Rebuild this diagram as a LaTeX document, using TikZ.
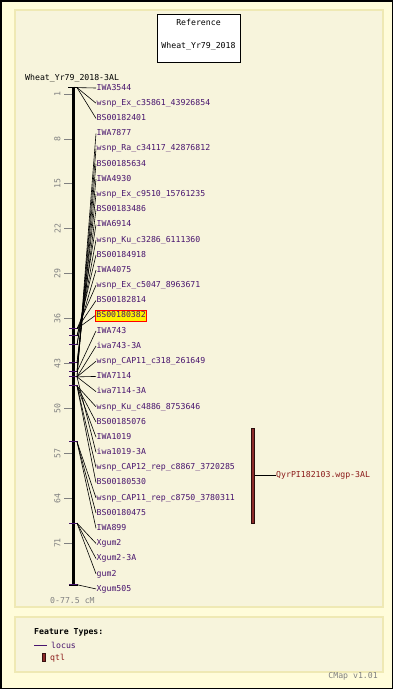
\documentclass[tikz,border=0pt]{standalone}
\usepackage{fontspec}
\setmonofont{DejaVu Sans Mono}
\definecolor{outerbg}{HTML}{FFFCDA}
\definecolor{panelbg}{HTML}{F7F4DC}
\definecolor{panelbd}{HTML}{EFE9B4}
\definecolor{locus}{HTML}{48146E}
\definecolor{qtlfill}{HTML}{8C2A2A}
\definecolor{qtltext}{HTML}{8B1A1A}
\definecolor{scalegray}{HTML}{808080}
\tikzset{
  panel/.style={fill=panelbg, draw=panelbd, line width=1.5pt},
  lbl/.style={anchor=west, inner sep=0.5pt, text=locus, text height=5.5pt, text depth=1pt},
  hl/.style={fill=yellow, draw=red, line width=0.8pt, inner xsep=1pt, inner ysep=2.5pt},
  conn/.style={black, line width=0.6pt},
  ftick/.style={locus, line width=1pt},
  stick/.style={scalegray, line width=0.8pt},
  slabel/.style={text=scalegray, rotate=90, inner sep=0pt},
}
\begin{document}
\begin{tikzpicture}[x=1pt, y=-1pt, font=\ttfamily\fontsize{8.2}{9}\selectfont]
\useasboundingbox (0,0) rectangle (393,689);
% background and panels
\fill[outerbg] (0,0) rectangle (393,689);
\draw[black, line width=1.5pt] (0.75,0.75) rectangle (392.25,688.25);
\path[panel] (15,10) rectangle (383,607);
\path[panel] (15,617) rectangle (383,672);
% reference box
\node[draw=black, fill=white, line width=0.8pt, minimum width=83pt, minimum height=48pt, inner sep=0pt] (refbox) at (198.5,38) {};
\node[inner sep=0pt] (reft) at (198.5,22) {Reference};
\node[inner sep=0pt] (refm) at (198.5,46) {Wheat\_Yr79\_2018};
% title
\node[anchor=west, inner sep=0pt] (title) at (25,78) {Wheat\_Yr79\_2018-3AL};
% scale
\foreach \v in {1,8,...,71} {
  \draw[stick] (64,{87.6+6.414*\v}) -- (72,{87.6+6.414*\v});
  \node[slabel] (s\v) at (57.5,{87.6+6.414*\v}) {\v};
}
% chromosome bar
\draw[black, line width=3pt] (73,86.5) -- (73,585.5);
% feature ticks
\foreach \c in {0,37.6,38.7,40.1,42.9,44.3,45.1,46.5,55.2,67.9,77.5} {
  \draw[ftick] (69,{87.6+6.414*\c}) -- (78,{87.6+6.414*\c});
}
\draw[black, line width=1pt] (68,87) -- (78,87);
\draw[black, line width=1pt] (69,585) -- (78,585);
% loci
\foreach \name/\cm [count=\i from 0] in {
  IWA3544/0,
  wsnp\_Ex\_c35861\_43926854/0,
  BS00182401/0,
  IWA7877/45.1,
  wsnp\_Ra\_c34117\_42876812/45.1,
  BS00185634/44.3,
  IWA4930/44.3,
  wsnp\_Ex\_c9510\_15761235/42.9,
  BS00183486/42.9,
  IWA6914/40.1,
  wsnp\_Ku\_c3286\_6111360/40.1,
  BS00184918/38.7,
  IWA4075/38.7,
  wsnp\_Ex\_c5047\_8963671/37.6,
  BS00182814/37.6,
  BS00180382/37.6,
  IWA743/44.3,
  iwa743-3A/45.1,
  wsnp\_CAP11\_c318\_261649/45.1,
  IWA7114/45.1,
  iwa7114-3A/45.1,
  wsnp\_Ku\_c4886\_8753646/46.5,
  BS00185076/46.5,
  IWA1019/46.5,
  iwa1019-3A/45.1,
  wsnp\_CAP12\_rep\_c8867\_3720285/46.5,
  BS00180530/46.5,
  wsnp\_CAP11\_rep\_c8750\_3780311/55.2,
  BS00180475/55.2,
  IWA899/55.2,
  Xgum2/67.9,
  Xgum2-3A/67.9,
  gum2/67.9,
  Xgum505/77.5} {
  \pgfmathsetmacro\ly{88+15.18*\i}
  \pgfmathsetmacro\fy{87.6+6.414*\cm}
  \coordinate (f\i) at (77,\fy);
  \ifnum\i=15
    \node[lbl,hl] (m\i) at (95,\ly) {\name};
  \else
    \node[lbl] (m\i) at (96,\ly) {\name};
  \fi
  \draw[conn] (f\i) -- (m\i.west);
}
% QTL
\node[draw=black!70!qtlfill, fill=qtlfill, line width=0.6pt, minimum width=3pt, minimum height=95pt, inner sep=0pt] (qbar) at (253,475.5) {};
\node[anchor=west, inner sep=0.5pt, text=qtltext, text height=5.5pt, text depth=1pt] (qlab) at (275.5,475.5) {QyrPI182103.wgp-3AL};
\draw[conn] (qbar.east) -- (qlab.west);
% range
\node[anchor=west, inner sep=0pt, text=scalegray] (range) at (50,601) {0-77.5 cM};
% legend
\node[anchor=west, inner sep=0pt, font=\ttfamily\bfseries\fontsize{8.2}{9}\selectfont] (ft) at (34,632) {Feature Types:};
\coordinate (la) at (34,645);
\coordinate (lb) at (47,645);
\draw[locus, line width=1pt] (la) -- (lb);
\node[anchor=west, inner sep=0pt, text=locus] (locusl) at (51,645) {locus};
\node[draw=black!60!qtlfill, fill=qtlfill, minimum width=3pt, minimum height=8pt, inner sep=0pt] (qsym) at (44,657.5) {};
\node[anchor=west, inner sep=0pt, text=qtltext] (qtll) at (50,658) {qtl};
\node[anchor=east, inner sep=0pt, text=scalegray] (cmap) at (378,676) {CMap v1.01};
\end{tikzpicture}
\end{document}
